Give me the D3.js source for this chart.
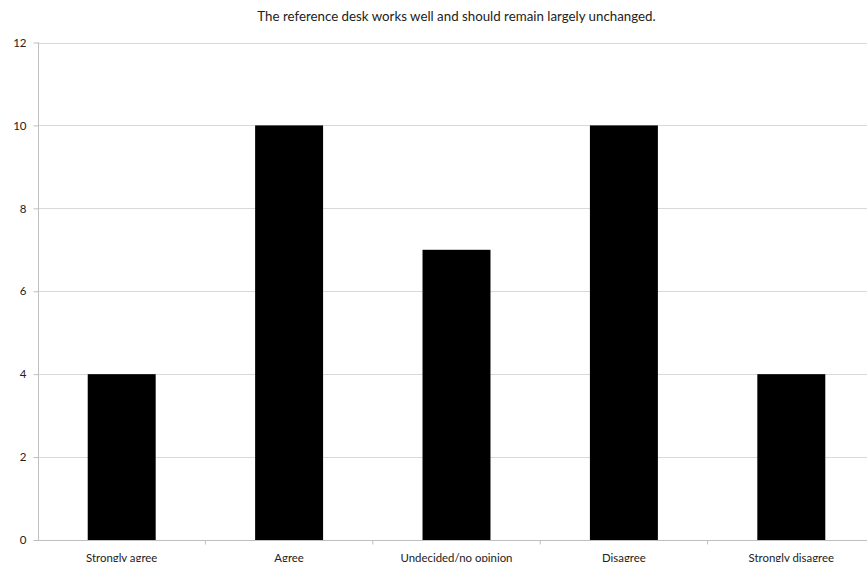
<!DOCTYPE html>
<html><head><meta charset="utf-8">
<script src="https://cdn.jsdelivr.net/npm/d3@7"></script>
<style>
html,body{margin:0;padding:0;background:#fff;overflow:hidden;}
svg{display:block;font-family:Lato,"Open Sans",sans-serif;}
</style></head>
<body>
<script>
const categories = ["Strongly agree","Agree","Undecided/no opinion","Disagree","Strongly disagree"];
const values = [4,10,7,10,4];
const yTicks = [0,2,4,6,8,10,12];
const chartTitle = "The reference desk works well and should remain largely unchanged.";

const W = 867, H = 562;
const mLeft = 38, mRight = 875, mTop = 42.5, mBottom = 540;

const svg = d3.select("body").append("svg").attr("width", W).attr("height", H);

const x = d3.scaleBand().domain(categories).range([mLeft, mRight]).paddingInner(0.594).paddingOuter(0.297);
const xb = d3.scaleBand().domain(categories).range([mLeft, mRight]);
const y = d3.scaleLinear().domain([0,12]).range([mBottom, mTop]);

// gridlines
svg.append("g").selectAll("line").data(yTicks.filter(d=>d>0)).join("line")
  .attr("x1", mLeft).attr("x2", mRight)
  .attr("y1", d=>Math.round(y(d))+0.5).attr("y2", d=>Math.round(y(d))+0.5)
  .attr("stroke", "#d9d9d9").attr("stroke-width", 1);

// bars
svg.append("g").selectAll("rect").data(values).join("rect")
  .attr("x", (d,i)=>x(categories[i]))
  .attr("width", x.bandwidth())
  .attr("y", d=>y(d))
  .attr("height", d=>y(0)-y(d))
  .attr("fill", "#000");

// y axis
const yAxis = d3.axisLeft(y).tickValues(yTicks).tickSize(5).tickPadding(7).tickFormat(d3.format("d"));
const gy = svg.append("g").attr("transform", `translate(${mLeft+0.5},0)`).call(yAxis);
gy.select(".domain").attr("stroke", "#bfbfbf").attr("d", `M0,${mBottom}V${mTop}`);
gy.selectAll(".tick line").attr("stroke", "#bfbfbf");
gy.selectAll(".tick text").attr("fill", "#222").style("font-size", "11.5px").style("font-family", "Lato, sans-serif");

// x axis
const gx = svg.append("g").attr("transform", `translate(0,${Math.round(mBottom)+0.5})`);
gx.append("line").attr("x1", mLeft).attr("x2", mRight).attr("y1", 0).attr("y2", 0).attr("stroke", "#bfbfbf");
gx.selectAll(".xt").data(categories.slice(1).map(c=>xb(c)).concat([mRight])).join("line")
  .attr("class","xt").attr("x1", d=>d).attr("x2", d=>d).attr("y1",0).attr("y2",4).attr("stroke","#bfbfbf");
gx.selectAll("text").data(categories).join("text")
  .attr("x", d=>xb(d)+xb.bandwidth()/2).attr("y", 21)
  .attr("text-anchor","middle").attr("fill","#222").style("font-size","11.4px")
  .text(d=>d);

// title
svg.append("text").attr("x", (mLeft+mRight)/2).attr("y", 21).attr("text-anchor","middle")
  .attr("fill","#222").style("font-size","13.3px").text(chartTitle);
</script>
</body></html>
